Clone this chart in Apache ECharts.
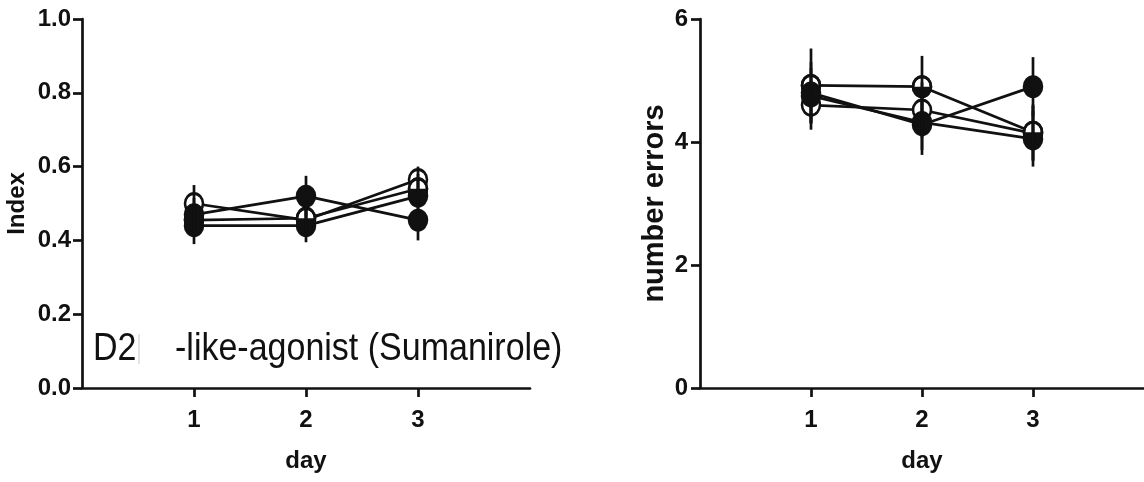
<!DOCTYPE html>
<html>
<head>
<meta charset="utf-8">
<script src="https://cdn.jsdelivr.net/npm/echarts@6/dist/echarts.min.js"></script>
<style>
html,body{margin:0;padding:0;background:#fff;}
#chart{width:1144px;height:482px;}
</style>
</head>
<body>
<div id="chart"></div>
<script>
// ---- data ----
const days = [1, 2, 3];
const dayTicks = [1, 2, 3];

// Left panel: Index
const idxOpen    = [0.50, 0.455, 0.565];
const idxFilledA = [0.47, 0.52, 0.455];
const idxHalf    = [0.455, 0.46, 0.54];
const idxFilledB = [0.44, 0.44, 0.52];
const idxOpenErr    = [0.05, 0.045, 0.035];
const idxFilledAErr = [0.045, 0.055, 0.055];
const idxHalfErr    = [0.045, 0.045, 0.04];
const idxFilledBErr = [0.05, 0.045, 0.045];

// Right panel: number errors
const errOpen    = [4.60, 4.52, 4.14];
const errFilledA = [4.80, 4.28, 4.90];
const errHalf    = [4.92, 4.90, 4.16];
const errFilledB = [4.75, 4.32, 4.05];
const errOpenErr    = [0.40, 0.45, 0.45];
const errFilledAErr = [0.50, 0.49, 0.48];
const errHalfErr    = [0.60, 0.50, 0.45];
const errFilledBErr = [0.45, 0.45, 0.45];

const annotationA = 'D2';
const annotationB = '-like-agonist (Sumanirole)';

// ---- styling helpers ----
const FONT = "'Liberation Sans', Arial, sans-serif";
const INK = '#111';
const LW = 2.7;
const MS = [18, 20];
const HALF_PATH = 'path://M0,0 A10,10 0 0,0 20,0 Z';

function pts(vals) { return days.map((d, i) => [d, vals[i]]); }

function lineSeries(axis, vals) {
  return {
    type: 'line', xAxisIndex: axis, yAxisIndex: axis, data: pts(vals),
    showSymbol: false, symbol: 'none', silent: true, z: 2,
    lineStyle: { color: INK, width: LW }
  };
}
function markerSeries(axis, vals, kind) {
  const out = [];
  out.push({
    type: 'scatter', xAxisIndex: axis, yAxisIndex: axis, data: pts(vals),
    symbol: 'circle', symbolSize: MS, silent: true, z: 3,
    itemStyle: { color: kind === 'filled' ? INK : '#fff', borderColor: INK, borderWidth: LW, opacity: 1 }
  });
  if (kind === 'half') {
    out.push({
      type: 'scatter', xAxisIndex: axis, yAxisIndex: axis, data: pts(vals),
      symbol: HALF_PATH, symbolSize: [MS[0], MS[1] / 2], symbolOffset: [0, '50%'],
      silent: true, z: 3, itemStyle: { color: INK, borderWidth: 0, opacity: 1 }
    });
    out.push({
      type: 'scatter', xAxisIndex: axis, yAxisIndex: axis, data: pts(vals),
      symbol: 'circle', symbolSize: MS, silent: true, z: 3,
      itemStyle: { color: 'rgba(0,0,0,0)', borderColor: INK, borderWidth: LW, opacity: 1 }
    });
  }
  return out;
}
function errorSeries(axis, vals, errs) {
  return {
    type: 'custom', xAxisIndex: axis, yAxisIndex: axis, silent: true, z: 4,
    data: days.map((d, i) => [d, vals[i] - errs[i], vals[i] + errs[i]]),
    renderItem: function (params, api) {
      const lo = api.coord([api.value(0), api.value(1)]);
      const hi = api.coord([api.value(0), api.value(2)]);
      return { type: 'line', shape: { x1: lo[0], y1: lo[1], x2: hi[0], y2: hi[1] },
               style: { stroke: INK, lineWidth: LW } };
    }
  };
}
function panel(axis, open, fa, half, fb, eo, efa, eh, efb) {
  return [
    lineSeries(axis, open), lineSeries(axis, fa), lineSeries(axis, half), lineSeries(axis, fb),
    ...markerSeries(axis, open, 'open'),
    ...markerSeries(axis, fb, 'filled'),
    ...markerSeries(axis, half, 'half'),
    ...markerSeries(axis, fa, 'filled'),
    errorSeries(axis, open, eo), errorSeries(axis, fa, efa),
    errorSeries(axis, half, eh), errorSeries(axis, fb, efb)
  ];
}

const axisLineStyle = { show: true, lineStyle: { color: INK, width: LW } };
const tickStyle = { show: true, length: 9, inside: false, lineStyle: { color: INK, width: LW } };
const labelStyle = { color: INK, fontFamily: FONT, fontWeight: 'bold', fontSize: 24 };

function xAxis(grid) {
  return {
    type: 'value', gridIndex: grid, min: 0, max: 4, interval: 1,
    axisLine: axisLineStyle,
    axisTick: Object.assign({ customValues: dayTicks }, tickStyle),
    axisLabel: Object.assign({ customValues: dayTicks, margin: 20 }, labelStyle),
    splitLine: { show: false },
    name: 'day', nameLocation: 'middle', nameGap: 61,
    nameTextStyle: Object.assign({}, labelStyle)
  };
}

const option = {
  animation: false,
  backgroundColor: '#fff',
  grid: [
    { left: 82, top: 19, width: 448, height: 369 },
    { left: 700, top: 19, width: 448, height: 369 }
  ],
  xAxis: [xAxis(0), xAxis(1)],
  yAxis: [
    {
      type: 'value', gridIndex: 0, min: 0, max: 1, interval: 0.2,
      axisLine: axisLineStyle, axisTick: tickStyle,
      axisLabel: Object.assign({ margin: 11, formatter: v => v.toFixed(1) }, labelStyle),
      splitLine: { show: false },
      name: 'Index', nameLocation: 'middle', nameGap: 53,
      nameTextStyle: Object.assign({}, labelStyle, { fontSize: 24 })
    },
    {
      type: 'value', gridIndex: 1, min: 0, max: 6, interval: 2,
      axisLine: axisLineStyle, axisTick: tickStyle,
      axisLabel: Object.assign({ margin: 12 }, labelStyle),
      splitLine: { show: false },
      name: 'number errors', nameLocation: 'middle', nameGap: 31,
      nameTextStyle: Object.assign({}, labelStyle, { fontSize: 29 })
    }
  ],
  graphic: [
    { type: 'text', x: 93, y: 349, scaleX: 1.0, scaleY: 1.15, silent: true,
      style: { text: annotationA, x: 0, y: 0, fill: INK, font: '34px ' + FONT,
               align: 'left', verticalAlign: 'middle', textAlign: 'left', textVerticalAlign: 'middle' } },
    { type: 'line', silent: true, shape: { x1: 139, y1: 334, x2: 139, y2: 364 },
      style: { stroke: '#c8c8c8', lineWidth: 1 } },
    { type: 'text', x: 175, y: 349, scaleX: 1.0, scaleY: 1.15, silent: true,
      style: { text: annotationB, x: 0, y: 0, fill: INK, font: '34px ' + FONT,
               align: 'left', verticalAlign: 'middle', textAlign: 'left', textVerticalAlign: 'middle' } }
  ],
  series: [
    ...panel(0, idxOpen, idxFilledA, idxHalf, idxFilledB, idxOpenErr, idxFilledAErr, idxHalfErr, idxFilledBErr),
    ...panel(1, errOpen, errFilledA, errHalf, errFilledB, errOpenErr, errFilledAErr, errHalfErr, errFilledBErr)
  ]
};

const chart = echarts.init(document.getElementById('chart'), null, { renderer: 'canvas' });
chart.setOption(option);
</script>
</body>
</html>
